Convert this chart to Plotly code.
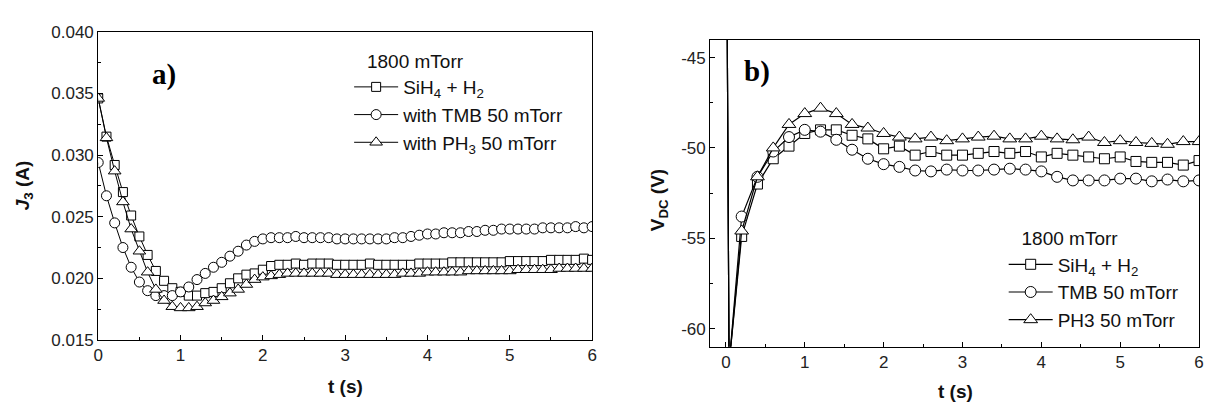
import plotly.graph_objects as go

# ---------------- data: panel a) ----------------
t_a = [round(0.1 * i, 1) for i in range(61)]
j3_sih4 = [0.0346, 0.0315, 0.0292, 0.0270, 0.0251, 0.0234, 0.0219, 0.0206, 0.0198, 0.0192,
           0.0189, 0.0186, 0.0186, 0.0188, 0.0189, 0.0192, 0.0196, 0.0200, 0.0203, 0.0204,
           0.0207, 0.0210, 0.0211, 0.0211, 0.0212, 0.0211, 0.0212, 0.0212, 0.0212, 0.0211,
           0.0211, 0.0211, 0.0211, 0.0212, 0.0211, 0.0211, 0.0211, 0.0211, 0.0211, 0.0212,
           0.0212, 0.0212, 0.0212, 0.0213, 0.0213, 0.0213, 0.0213, 0.0213, 0.0213, 0.0213,
           0.0214, 0.0214, 0.0214, 0.0214, 0.0214, 0.0215, 0.0215, 0.0215, 0.0215, 0.0216,
           0.0215]
j3_tmb = [0.0294, 0.0267, 0.0245, 0.0225, 0.0209, 0.0197, 0.0190, 0.0186, 0.0186, 0.0186,
          0.0189, 0.0193, 0.0199, 0.0204, 0.0209, 0.0213, 0.0218, 0.0222, 0.0227, 0.0230,
          0.0232, 0.0233, 0.0233, 0.0233, 0.0234, 0.0233, 0.0233, 0.0233, 0.0233, 0.0232,
          0.0232, 0.0232, 0.0232, 0.0232, 0.0232, 0.0232, 0.0233, 0.0233, 0.0234, 0.0235,
          0.0236, 0.0236, 0.0237, 0.0237, 0.0237, 0.0238, 0.0238, 0.0239, 0.0239, 0.0240,
          0.0240, 0.0240, 0.0240, 0.0240, 0.0241, 0.0241, 0.0241, 0.0241, 0.0242, 0.0241,
          0.0242]
j3_ph3 = [0.0346, 0.0314, 0.0287, 0.0262, 0.0240, 0.0222, 0.0205, 0.0191, 0.0182, 0.0177,
          0.0176, 0.0176, 0.0177, 0.0180, 0.0182, 0.0185, 0.0188, 0.0191, 0.0195, 0.0199,
          0.0201, 0.0202, 0.0203, 0.0204, 0.0204, 0.0204, 0.0204, 0.0204, 0.0204, 0.0203,
          0.0203, 0.0203, 0.0203, 0.0203, 0.0203, 0.0203, 0.0203, 0.0204, 0.0204, 0.0204,
          0.0205, 0.0205, 0.0205, 0.0205, 0.0205, 0.0206, 0.0206, 0.0206, 0.0206, 0.0206,
          0.0206, 0.0207, 0.0207, 0.0207, 0.0207, 0.0207, 0.0208, 0.0208, 0.0208, 0.0208,
          0.0208]

# ---------------- data: panel b) ----------------
t_b = [0.0, 0.04] + [round(0.2 * i, 1) for i in range(1, 31)]
vdc_sih4 = [-30, -62,
            -54.9, -52.0, -50.6, -49.9, -49.2, -49.0, -49.0, -49.3, -49.5, -50.05,
            -49.9, -50.4, -50.2, -50.4, -50.4, -50.3, -50.2, -50.3, -50.2, -50.5,
            -50.3, -50.4, -50.5, -50.6, -50.5, -50.75, -50.8, -50.8, -50.95, -50.7]
vdc_tmb = [-30, -62,
           -53.8, -51.6, -50.2, -49.4, -49.0, -49.1, -49.55, -50.1, -50.6, -50.9,
           -51.05, -51.25, -51.3, -51.2, -51.25, -51.25, -51.2, -51.15, -51.2, -51.3,
           -51.6, -51.8, -51.8, -51.8, -51.7, -51.7, -51.85, -51.75, -51.85, -51.8]
vdc_ph3 = [-30, -62,
           -54.6, -51.6, -50.0, -48.7, -48.1, -47.8, -48.1, -48.7, -48.9, -49.2,
           -49.4, -49.5, -49.4, -49.6, -49.5, -49.4, -49.35, -49.5, -49.5, -49.35,
           -49.5, -49.55, -49.4, -49.7, -49.6, -49.7, -49.75, -49.8, -49.65, -49.65]

# tick labels
yticks_a = [0.015, 0.020, 0.025, 0.030, 0.035, 0.040]
yticklabels_a = ["0.015", "0.020", "0.025", "0.030", "0.035", "0.040"]
yticks_b = [-60, -55, -50, -45]
yticklabels_b = ["-60", "-55", "-50", "-45"]
xticks = [0, 1, 2, 3, 4, 5, 6]
xticklabels = ["0", "1", "2", "3", "4", "5", "6"]

names_a = ["SiH<sub>4</sub> + H<sub>2</sub>", "with TMB 50 mTorr", "with PH<sub>3</sub> 50 mTorr"]
names_b = ["SiH<sub>4</sub> + H<sub>2</sub>", "TMB 50 mTorr", "PH3 50 mTorr"]
symbols = ["square", "circle", "triangle-up"]

W, H = 1211, 411
FONT = "Liberation Sans, Arial, sans-serif"

fig = go.Figure()

sizes_a = [9, 10, 11]
for ys, nm, sym, sz in zip([j3_sih4, j3_tmb, j3_ph3], names_a, symbols, sizes_a):
    fig.add_trace(go.Scatter(
        x=t_a, y=ys, name=nm, mode="lines+markers",
        line=dict(color="black", width=1),
        marker=dict(symbol=sym, size=sz, color="white", line=dict(color="black", width=1)),
        xaxis="x", yaxis="y", legend="legend"))

sizes_b = [10, 11, 12]
for ys, nm, sym, sz in zip([vdc_sih4, vdc_tmb, vdc_ph3], names_b, symbols, sizes_b):
    fig.add_trace(go.Scatter(
        x=t_b, y=ys, name=nm, mode="lines+markers",
        line=dict(color="black", width=1.2),
        marker=dict(symbol=sym, size=sz, color="white", line=dict(color="black", width=1)),
        xaxis="x2", yaxis="y2", legend="legend2"))

def px_x(p):
    return p / W

def px_y(p):
    return 1 - p / H

axis_common = dict(
    showline=True, mirror=True, linecolor="black", linewidth=1,
    ticks="inside", ticklen=5, tickcolor="black", tickwidth=1,
    showgrid=False, zeroline=False,
    tickfont=dict(family=FONT, size=17, color="#222"),
)

leg_font = dict(family=FONT, size=19, color="#111")

fig.update_layout(
    width=W, height=H,
    margin=dict(l=0, r=0, t=0, b=0),
    paper_bgcolor="white", plot_bgcolor="white",
    xaxis=dict(domain=[px_x(94), px_x(592)], range=[0, 6],
               tickvals=xticks, ticktext=xticklabels, anchor="y",
               minor=dict(ticks="inside", ticklen=3, dtick=0.5, tickcolor="black"),
               **axis_common),
    yaxis=dict(domain=[px_y(347), px_y(24)], range=[0.015, 0.040],
               tickvals=yticks_a, ticktext=yticklabels_a, anchor="x",
               minor=dict(ticks="inside", ticklen=3, dtick=0.0025, tickcolor="black"),
               **axis_common),
    xaxis2=dict(domain=[px_x(711), px_x(1204)], range=[-0.2, 6],
                tickvals=xticks, ticktext=xticklabels, anchor="y2",
                minor=dict(ticks="inside", ticklen=3, dtick=0.5, tickcolor="black"),
                **axis_common),
    yaxis2=dict(domain=[px_y(354), px_y(32)], range=[-61, -44],
                tickvals=yticks_b, ticktext=yticklabels_b, anchor="x2",
                minor=dict(ticks="inside", ticklen=3, dtick=2.5, tickcolor="black"),
                **axis_common),
    legend=dict(x=px_x(347), y=px_y(36), xanchor="left", yanchor="top",
                bgcolor="rgba(0,0,0,0)", borderwidth=0, font=leg_font,
                title=dict(text="   1800 mTorr", font=leg_font),
                tracegroupgap=0, itemwidth=44),
    legend2=dict(x=px_x(1007), y=px_y(222), xanchor="left", yanchor="top",
                 bgcolor="rgba(0,0,0,0)", borderwidth=0, font=leg_font,
                 title=dict(text="   1800 mTorr", font=leg_font),
                 tracegroupgap=0, itemwidth=44),
    showlegend=True,
)

ann = [
    dict(text="<b>a)</b>", x=px_x(146), y=px_y(69), xanchor="left", yanchor="middle",
         font=dict(family="Liberation Serif, Times New Roman, serif", size=29, color="black")),
    dict(text="<b>b)</b>", x=px_x(743), y=px_y(66), xanchor="left", yanchor="middle",
         font=dict(family="Liberation Serif, Times New Roman, serif", size=29, color="black")),
    dict(text="<b>t (s)</b>", x=px_x(343), y=px_y(396), xanchor="center", yanchor="middle",
         font=dict(family=FONT, size=19, color="#111")),
    dict(text="<b>t (s)</b>", x=px_x(958), y=px_y(401), xanchor="center", yanchor="middle",
         font=dict(family=FONT, size=19, color="#111")),
    dict(text="<b><i>J</i><sub>3</sub> (A)</b>", x=px_x(20), y=px_y(185), textangle=-90,
         xanchor="center", yanchor="middle", font=dict(family=FONT, size=19, color="#111")),
    dict(text="<b>V<sub>DC</sub> (V)</b>", x=px_x(659), y=px_y(200), textangle=-90,
         xanchor="center", yanchor="middle", font=dict(family=FONT, size=19, color="#111")),
]
for a in ann:
    a.update(xref="paper", yref="paper", showarrow=False)
fig.update_layout(annotations=ann)

fig.write_html("out.html", config={"displayModeBar": False},
               post_script="document.body.style.margin='0';document.body.style.padding='0';")
